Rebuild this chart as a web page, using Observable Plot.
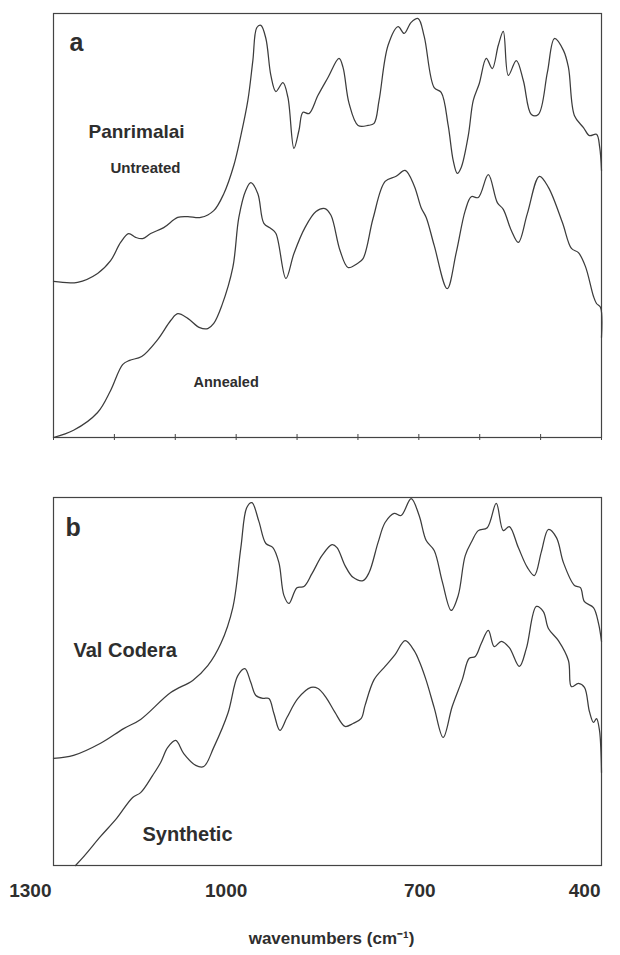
<!DOCTYPE html>
<html>
<head>
<meta charset="utf-8">
<script src="https://cdn.jsdelivr.net/npm/d3@7"></script>
<script src="https://cdn.jsdelivr.net/npm/@observablehq/plot@0.6"></script>
<style>
  html, body { margin: 0; padding: 0; background: #fff; }
  #chart { width: 620px; }
  #chart svg { display: block; }
</style>
</head>
<body>
<div id="chart"></div>
<script>
// ---------- data (wavenumber in cm-1, relative absorbance 0-100) ----------
const tickValues = [1300, 1200, 1100, 1000, 900, 800, 700, 600, 500, 400];
const labelTicks = [1300, 1000, 700, 400];
const labelText = ["1300", "1000", "700", "400"];
const panelLetters = ["a", "b"];
const sampleNames = ["Panrimalai", "Untreated", "Annealed", "Val Codera", "Synthetic"];
const axisTitle = "wavenumbers (cm\u207B\u00B9)";

// Panel a – Panrimalai, untreated
const untreatedWn = [1300,1260.5,1227.6,1206.2,1189.8,1176.6,1165.1,1153.6,1140.4,1119,1096,1079.5,1058.1,1036.8,1020.3,1003.8,992.3,980.8,972.6,966,959.4,951.2,943,934.7,923.2,915,905.1,896.9,890.3,880.4,865.6,849.2,831.1,824.5,814.6,799.8,783.4,773.5,765.3,750.5,734,724.1,712.6,701.1,691.2,674.8,663.3,651.8,643.5,636.9,630.4,618.8,610.6,600.7,589.2,579.4,569.5,561.3,553,539.9,528.4,515.2,503.7,488.9,477.3,462.5,454.3,444.4,429.6,419.8,408.2,403,400];
const untreatedAbs = [36.8,36.6,38.7,41.7,46.0,48.1,47.2,46.9,48.1,49.5,51.9,52.1,51.9,53.5,57.5,64.2,71.2,79.5,88.9,96.7,97.2,94.1,85.4,81.6,83.7,80.2,68.2,72.4,76.7,76.4,80.7,84.9,89.4,87.3,78.8,73.6,73.6,74.1,79.5,92.5,96.9,95.3,97.9,98.8,94.6,82.5,81.4,73.6,65.3,62.3,63.7,71.2,79.5,83.5,89.4,87.0,92.5,95.8,85.4,88.9,84.2,76.2,76.2,86.1,94.1,91.3,87.3,75.9,73.1,71.2,71.5,68.5,63.0];

// Panel a – Panrimalai, annealed
const annealedWn = [1300,1267.1,1227.6,1206.2,1186.5,1175,1155.2,1128.9,1107.5,1096,1079.5,1059.8,1046.6,1036.8,1023.6,1005.5,995.6,984.1,975.9,964.4,954.5,943,934.7,918.3,905.1,887,868.9,854.1,844.3,829.4,816.3,801.5,791.6,775.1,755.4,737.3,722.5,707.7,696.2,687.9,674.8,653.4,638.6,623.8,613.9,602.4,585.9,571.1,561.3,548.1,536.6,521.8,502,487.2,464.2,449.4,437.9,426.3,413.2,408.2,401.7,400];
const annealedAbs = [0,1.7,5.9,11.1,17.2,18.2,19.1,23.1,27.6,29.2,28.1,25.9,25.7,26.9,31.1,40.1,51.9,58.3,60.1,57.5,50.5,49.3,48.1,37.5,43.4,49.5,53.3,54.0,52.4,44.1,40.1,41.0,42.2,51.7,60.4,61.6,63.0,59.4,54.2,51.9,45.3,35.1,43.6,53.5,56.8,56.6,62.0,55.4,53.8,48.8,46.0,52.8,61.6,59.0,50.7,44.6,43.6,40.3,33.3,31.6,30.7,23.6];

// Panel b – Val Codera
const valCoderaWn = [1300,1267.1,1222.7,1184.8,1156.9,1107.5,1071.3,1046.6,1025.2,1005.5,992.3,982.5,974.2,962.7,951.2,939.7,929.8,921.6,913.4,900.2,888.7,875.5,859.1,842.6,834.4,821.2,808.1,791.6,781.7,766.9,755.4,740.6,729.1,712.6,699.5,687.9,674.8,661.6,646.8,635.3,623.8,612.3,602.4,587.6,572.8,561.3,551.4,536.6,521.8,510.3,498.7,487.2,474,462.5,444.4,434.6,428,413.2,404.9,400];
const valCoderaAbs = [29.1,29.9,33.2,37.2,39.7,47.0,50.3,54.3,60.3,70.1,86.4,97.3,98.6,93.5,87.5,86.4,82.3,73.4,71.2,75.5,75.8,79.3,84.2,87.2,86.4,81.5,78.3,77.4,79.6,87.8,93.2,95.7,95.1,99.7,95.1,88.3,85.6,77.2,69.3,73.4,84.2,88.3,91.0,91.8,98.4,91.0,92.1,86.4,81.0,78.8,85.3,91.3,89.1,82.3,76.1,75.5,71.7,70.1,65.8,60.9];

// Panel b – synthetic
const syntheticWn = [1263.8,1249,1222.7,1196.3,1170,1156.9,1137.1,1124,1112.4,1099.3,1086.1,1066.4,1053.2,1036.8,1013.7,997.3,985.7,975.9,967.6,956.1,946.3,938,928.2,916.6,898.5,877.2,865.6,852.5,837.7,821.2,808.1,794.9,788.3,773.5,755.4,739,722.5,707.7,697.8,687.9,674.8,660,645.2,628.7,617.2,607.3,597.5,585.9,576.1,564.5,551.4,534.9,523.4,507,495.5,487.2,470.8,454.3,449.4,437.9,428,419.8,413.2,408.2,403.3,400];
const syntheticAbs = [0,2.7,7.9,12.8,18.5,19.8,24.5,28.0,32.1,34.0,30.4,27.2,26.9,32.1,41.3,51.6,53.5,49.7,46.2,45.4,45.4,41.3,36.7,40.2,45.4,48.4,48.1,45.7,41.6,37.8,38.6,39.9,43.5,50.5,54.1,57.3,61.1,58.4,54.9,50.3,42.9,34.8,43.2,50.5,56.3,56.8,60.3,63.9,59.5,60.9,59.2,54.1,59.0,70.4,69.0,64.4,61.1,55.7,48.6,49.5,48.4,41.8,38.9,39.9,36.7,25.3];

// ---------- helpers ----------
const toRows = (wn, ab) => wn.map((w, i) => ({wn: w, abs: ab[i]}));
const FONT = "'Liberation Sans', Arial, Helvetica, sans-serif";
const INK = "#2e2e2e";
const LINE = "#3c3c3c";

const lineOpts = {x: "wn", y: "abs", curve: "catmull-rom", stroke: LINE, strokeWidth: 1.25};
const txt = (s, o) => Plot.text([s], {text: d => d, fill: INK, fontWeight: "bold", textAnchor: "start", lineAnchor: "bottom", ...o});

// ---------- panel a ----------
const plotA = Plot.plot({
  width: 620, height: 445,
  marginTop: 13, marginBottom: 8, marginLeft: 53, marginRight: 19,
  style: {fontFamily: FONT, background: "#fff", overflow: "visible"},
  x: {domain: [1300, 400], label: null},
  y: {domain: [0, 100], axis: null},
  marks: [
    Plot.frame({stroke: "#444", strokeWidth: 1.2}),
    Plot.axisX({ticks: tickValues, tickSize: 6, tickFormat: () => "", label: null, stroke: "#444", dy: -3}),
    Plot.line(toRows(untreatedWn, untreatedAbs), lineOpts),
    Plot.line(toRows(annealedWn, annealedAbs), lineOpts),
    txt(panelLetters[0], {frameAnchor: "top-left", dx: 16, dy: 37, fontSize: 25}),
    txt(sampleNames[0], {frameAnchor: "top-left", dx: 35, dy: 124, fontSize: 19}),
    txt(sampleNames[1], {frameAnchor: "top-left", dx: 57, dy: 159, fontSize: 15}),
    txt(sampleNames[2], {frameAnchor: "top-left", dx: 140, dy: 373, fontSize: 14.5})
  ]
});

// ---------- panel b ----------
const axisStyle = {tickSize: 0, tickPadding: 18, fontSize: 19, fontWeight: "bold", fill: INK, label: null};
const plotB = Plot.plot({
  width: 620, height: 510,
  marginTop: 52, marginBottom: 90, marginLeft: 53, marginRight: 19,
  style: {fontFamily: FONT, background: "#fff", overflow: "visible"},
  x: {domain: [1300, 400], label: null},
  y: {domain: [0, 100], axis: null},
  marks: [
    Plot.frame({stroke: "#444", strokeWidth: 1.2}),
    Plot.axisX([labelTicks[0]], {...axisStyle, tickFormat: () => labelText[0], textAnchor: "end", dx: -2}),
    Plot.axisX([labelTicks[1]], {...axisStyle, tickFormat: () => labelText[1], dx: -10}),
    Plot.axisX([labelTicks[2]], {...axisStyle, tickFormat: () => labelText[2], dx: 1}),
    Plot.axisX([labelTicks[3]], {...axisStyle, tickFormat: () => labelText[3], textAnchor: "end", dx: -1}),
    Plot.line(toRows(valCoderaWn, valCoderaAbs), lineOpts),
    Plot.line(toRows(syntheticWn, syntheticAbs), lineOpts),
    txt(panelLetters[1], {frameAnchor: "top-left", dx: 12, dy: 38, fontSize: 25}),
    txt(sampleNames[3], {frameAnchor: "top-left", dx: 20, dy: 159, fontSize: 20}),
    txt(sampleNames[4], {frameAnchor: "top-left", dx: 89, dy: 343, fontSize: 20}),
    txt(axisTitle, {frameAnchor: "bottom", textAnchor: "middle", dx: 4, dy: 78, fontSize: 17})
  ]
});

document.getElementById("chart").append(plotA, plotB);
</script>
</body>
</html>
